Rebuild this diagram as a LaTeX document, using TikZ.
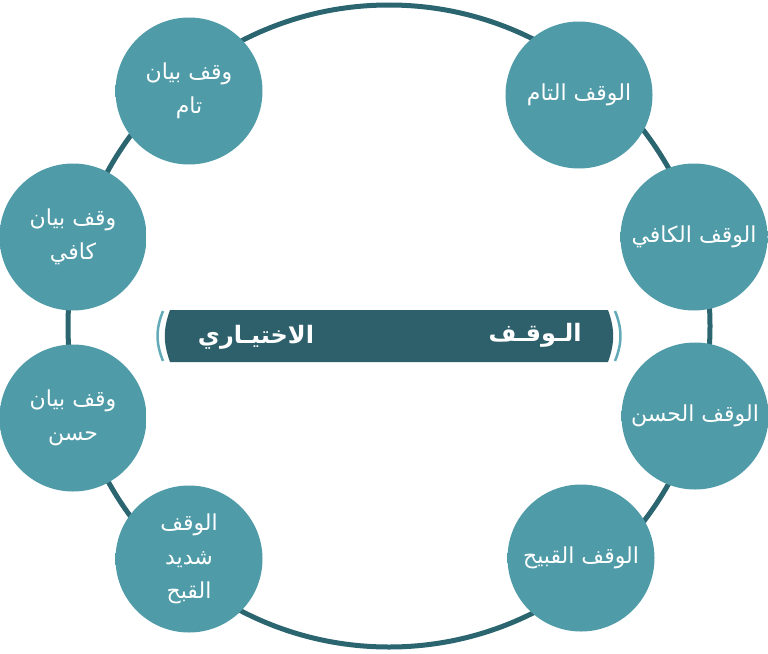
\documentclass[tikz,border=0pt]{standalone}
\usepackage{fontspec}
\newfontfamily\arabicfont[Script=Arabic]{DejaVu Sans}
\TeXXeTstate=1
\definecolor{ringline}{HTML}{2B6570}
\definecolor{ballfill}{HTML}{4F9BA8}
\definecolor{balledge}{HTML}{387B88}
\definecolor{barfill}{HTML}{2D606B}
\definecolor{barrim}{HTML}{62AAB7}
\pgfdeclareradialshading{ballshade}{\pgfpoint{0bp}{0bp}}{color(0bp)=(ballfill); color(42bp)=(ballfill); color(50bp)=(balledge)}

\begin{document}
\begin{tikzpicture}[x = 1pt, y = -1pt,
  ball/.style = {circle, minimum size = 147pt, inner sep = 0pt, shading = ballshade, text = white, align = center, font = \arabicfont\fontsize{22}{34}\selectfont},
  barword/.style = {text = white, font = \arabicfont\bfseries\fontsize{24}{30}\selectfont}]
\useasboundingbox (0, 0) rectangle (768, 653);
\coordinate (hub) at (389, 326);
\draw[ringline, line width = 5pt] (hub) circle [radius = 321];
\node[ball] (tam) at (579, 95){\beginR الوقف التام\endR};
\node[ball] (kafi) at (694, 237){\beginR الوقف الكافي\endR};
\node[ball] (hasan) at (695, 416){\beginR الوقف الحسن\endR};
\node[ball] (qabih) at (581, 558){\beginR الوقف القبيح\endR};
\node[ball] (shadid) at (189, 559){\beginR الوقف\endR\\\beginR شديد\endR\\\beginR القبح\endR};
\node[ball] (bhasan) at (73, 418){\beginR وقف بيان\endR\\\beginR حسن\endR};
\node[ball] (bkafi) at (73, 237){\beginR وقف بيان\endR\\\beginR كافي\endR};
\node[ball] (btam) at (189, 91){\beginR وقف بيان\endR\\\beginR تام\endR};
\fill[barfill] (170, 310) -- (608, 310) to[bend left = 20] (608, 362) -- (170, 362) to[bend left = 20] (170, 310) -- cycle;
\draw[barrim, line width = 2.5pt] (163, 311) to[bend right = 22] (163, 361);
\draw[barrim, line width = 2.5pt] (615, 311) to[bend left = 22] (615, 361);
\node[barword] (waqf) at (535, 335){\beginR الـوقـف\endR};
\node[barword] (ikhtiyari) at (256, 337){\beginR الاختيـاري\endR};
\end{tikzpicture}
\end{document}
